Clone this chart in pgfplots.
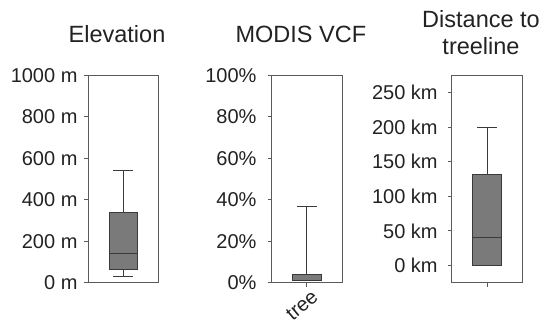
\documentclass[border=0pt]{standalone}
\usepackage{fontspec}
\setmainfont{Liberation Sans}
\usepackage{pgfplots}
\pgfplotsset{compat=1.18}
\definecolor{boxfill}{HTML}{7A7A7A}
\definecolor{boxedge}{HTML}{3A3A3A}
\definecolor{framegray}{HTML}{5A5A5A}
\definecolor{txt}{HTML}{222222}
\pgfplotsset{
  panel/.style={
    scale only axis,
    height=207.4pt,
    xmin=0, xmax=2,
    axis line style={framegray, line width=0.9pt},
    every tick/.style={framegray, line width=0.9pt},
    tick align=outside,
    major tick length=4pt,
    ytick pos=left,
    xtick pos=bottom,
    yticklabel style={font=\fontsize{20}{23}\selectfont, text=txt},
    xticklabel style={font=\fontsize{20}{23}\selectfont, text=txt},
    title style={font=\fontsize{23.5}{27.6}\selectfont, text=txt, at={(0.5,1)}, anchor=base, yshift=27pt, xshift=-6pt, align=center},
  },
  bx/.style={fill=boxfill, draw=boxedge, line width=0.9pt, mark=none},
  wh/.style={draw=boxedge, line width=0.9pt, mark=none},
}
\begin{document}
\begin{tikzpicture}
\useasboundingbox (0pt,0pt) rectangle (545pt,322pt);
% Panel 1: Elevation (lower whisker 29, Q1 65, median 142, Q3 339, upper whisker 543)
\begin{axis}[panel, at={(88pt,39.3pt)}, anchor=south west, width=70pt,
  ymin=0, ymax=1000,
  ytick={0,200,400,600,800,1000},
  yticklabels={{0 m},{200 m},{400 m},{600 m},{800 m},{1000 m}},
  yticklabel style={xshift=-3pt},
  xtick=\empty,
  title={Elevation}]
\addplot[wh] coordinates {(1,339) (1,543)};
\addplot[wh] coordinates {(1,29) (1,65)};
\addplot[wh] coordinates {(0.72,543) (1.28,543)};
\addplot[wh] coordinates {(0.72,29) (1.28,29)};
\addplot[bx] coordinates {(0.6,65) (1.4,65) (1.4,339) (0.6,339)} --cycle;
\addplot[wh] coordinates {(0.6,142) (1.4,142)};
\end{axis}
% Panel 2: MODIS VCF (0, 0.9, 1.5, 4.2, 37)
\begin{axis}[panel, at={(271.5pt,39.3pt)}, anchor=south west, width=70.8pt,
  ymin=0, ymax=100,
  ytick={0,20,40,60,80,100},
  yticklabels={{0\%},{20\%},{40\%},{60\%},{80\%},{100\%}},
  yticklabel style={xshift=-7.5pt},
  xtick={1}, xticklabels={tree},
  xticklabel style={rotate=40, anchor=north east, xshift=5pt, yshift=-1pt},
  title={MODIS VCF}]
\addplot[wh] coordinates {(1,4.2) (1,37)};
\addplot[wh] coordinates {(0.72,37) (1.28,37)};
\addplot[bx] coordinates {(0.6,0.9) (1.4,0.9) (1.4,4.2) (0.6,4.2)} --cycle;
\end{axis}
% Panel 3: Distance to treeline (0, 0, 40, 131, 199)
\begin{axis}[panel, at={(451.7pt,39.3pt)}, anchor=south west, width=70.6pt,
  ymin=-25, ymax=275,
  ytick={0,50,100,150,200,250},
  yticklabels={{0 km},{50 km},{100 km},{150 km},{200 km},{250 km}},
  yticklabel style={xshift=-6.5pt},
  xtick={1}, xticklabels={},
  title style={yshift=-12.6pt},
  title={Distance to\\treeline}]
\addplot[wh] coordinates {(1,131) (1,199)};
\addplot[wh] coordinates {(0.72,199) (1.28,199)};
\addplot[bx] coordinates {(0.6,0) (1.4,0) (1.4,131) (0.6,131)} --cycle;
\addplot[wh] coordinates {(0.6,40) (1.4,40)};
\end{axis}
\end{tikzpicture}
\end{document}
